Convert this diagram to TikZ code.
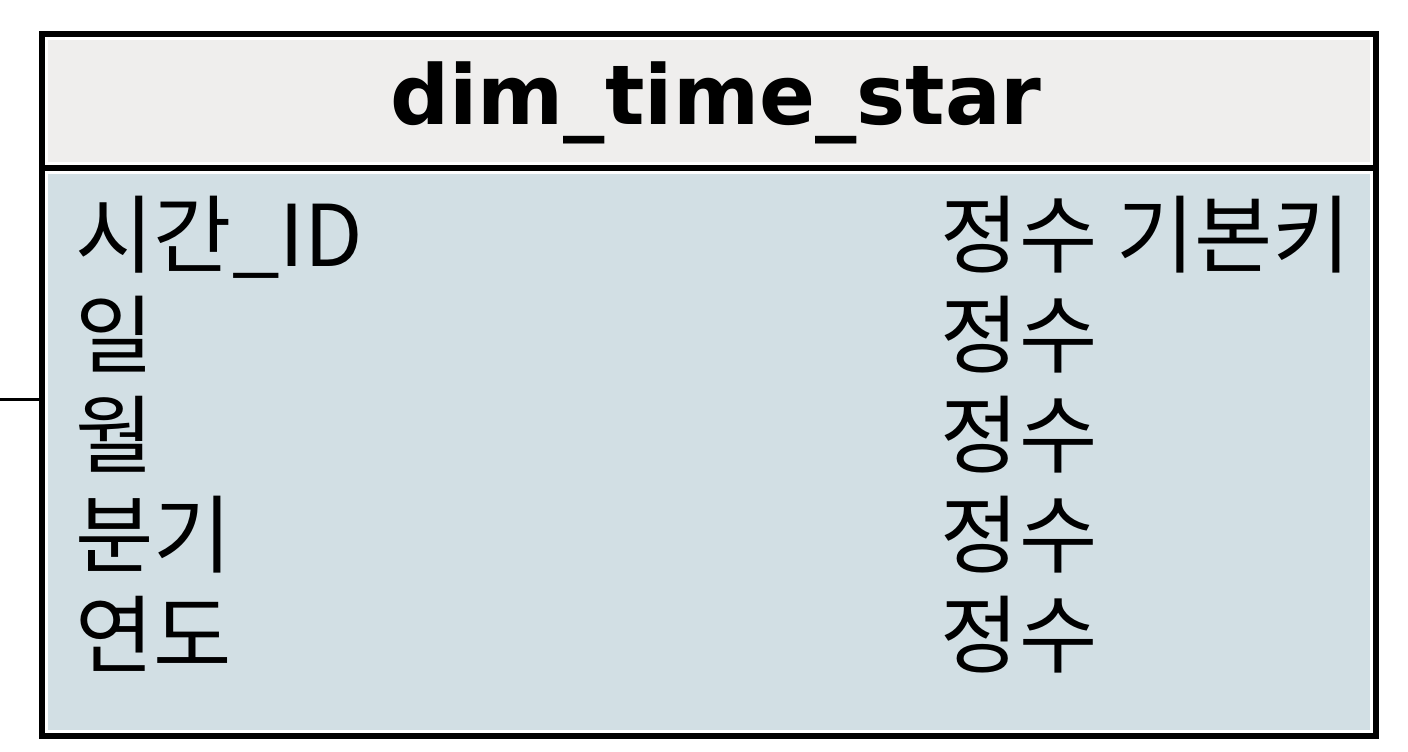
\documentclass[tikz,border=0pt]{standalone}
\usepackage{fontspec}
\newfontfamily\hangul{Noto Sans CJK KR}
\newfontfamily\headfont{DejaVu Sans}
\definecolor{headgray}{HTML}{EFEEED}
\definecolor{bodyblue}{HTML}{D2DFE4}
\tikzset{
	tablepart/.style={draw=white,line width=0.12cm,outer sep=0pt,inner sep=0pt,minimum width=13.34cm},
	tableline/.style={line width=0.06cm},
	fieldtext/.style={anchor=base west,inner sep=0pt,font=\hangul\fontsize{24.2}{28}\selectfont}
}
\begin{document}
\begin{tikzpicture} [x=0.01cm,y=-0.01cm]
	\useasboundingbox (0,0) rectangle (1408,752);
	% table header and body
	\node [tablepart,fill=headgray,minimum height=1.34cm] (head) at (709,101) {};
	\node [tablepart,fill=bodyblue,minimum height=5.68cm] (body) at (709,452) {};
	\node [font=\headfont\bfseries\fontsize{23.5}{27}\selectfont] (title) at (716,103) {dim\_time\_star};
	\draw [tableline] (head.north west) rectangle (body.south east);
	\draw [tableline] (head.south west) -- (head.south east);
	% fields
	\node [fieldtext] (f1) at (75,267) {시간\_ID};
	\node [fieldtext] (f2) at (75,367) {일};
	\node [fieldtext] (f3) at (75,467) {월};
	\node [fieldtext] (f4) at (75,567) {분기};
	\node [fieldtext] (f5) at (75,667) {연도};
	\node [fieldtext] (t1) at (940,267) {정수 기본키};
	\node [fieldtext] (t2) at (940,367) {정수};
	\node [fieldtext] (t3) at (940,467) {정수};
	\node [fieldtext] (t4) at (940,567) {정수};
	\node [fieldtext] (t5) at (940,667) {정수};
	% link from the left
	\coordinate (linkend) at (0,400);
	\draw [line width=0.03cm] (linkend) -- (linkend -| body.west);
\end{tikzpicture}
\end{document}
